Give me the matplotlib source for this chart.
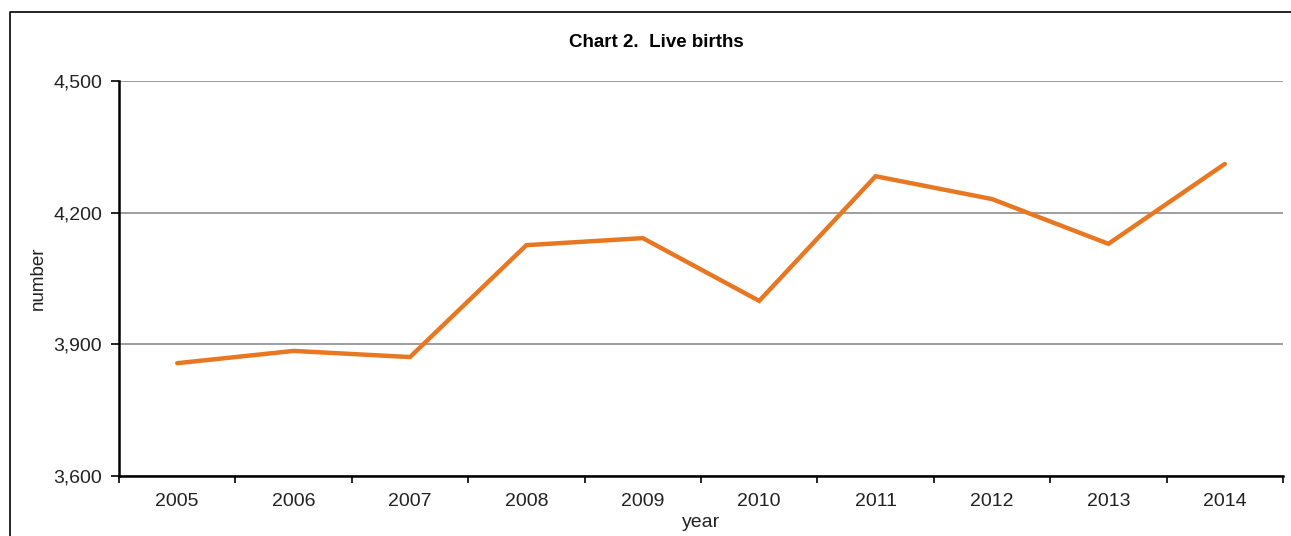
import matplotlib
matplotlib.use('Agg')
import matplotlib.pyplot as plt
from matplotlib.lines import Line2D
from matplotlib.ticker import FuncFormatter, FixedLocator

plt.rcParams['font.family'] = ['Liberation Sans', 'DejaVu Sans']

# data
years = ['2005', '2006', '2007', '2008', '2009', '2010', '2011', '2012', '2013', '2014']
births = [3857, 3885, 3871, 4126, 4142, 3999, 4283, 4231, 4129, 4311]
y_ticks = [3600, 3900, 4200, 4500]

W, H = 1291, 536
fig = plt.figure(figsize=(W / 100, H / 100), dpi=100)
ax = fig.add_axes([119 / W, 1 - 476 / H, (1283 - 119) / W, (476 - 81) / H])

# outer frame of the chart (left + top only, rest is cut off)
fig.add_artist(Line2D([10 / W, 10 / W, 1.0], [0.0, 1 - 12 / H, 1 - 12 / H],
                      transform=fig.transFigure, color='black', linewidth=1.2))

x = list(range(len(years)))
ax.plot(x, births, color='#E87722', linewidth=3.2, solid_capstyle='round',
        solid_joinstyle='miter', zorder=3)

ax.set_xlim(-0.5, len(years) - 0.5)
ax.set_ylim(3600, 4500)
ax.set_yticks(y_ticks)
ax.yaxis.set_major_formatter(FuncFormatter(lambda v, p: f'{int(v):,}'))
ax.grid(axis='y', color='#8c8c8c', linewidth=1.2)
ax.set_axisbelow(True)

# category boundaries as ticks, labels in the middle
ax.xaxis.set_major_locator(FixedLocator([i - 0.5 for i in range(len(years) + 1)]))
ax.xaxis.set_major_formatter(FuncFormatter(lambda v, p: ''))
ax.xaxis.set_minor_locator(FixedLocator(x))
ax.set_xticklabels(years, minor=True)
ax.tick_params(axis='x', which='major', length=5, width=1.2, direction='out')
ax.tick_params(axis='x', which='minor', length=0, pad=12, labelsize=14, labelcolor='#222222')
ax.tick_params(axis='y', length=6, width=1.2, direction='out', pad=6,
               labelsize=14, labelcolor='#222222')

for s in ['top', 'right']:
    ax.spines[s].set_visible(False)
ax.spines['left'].set_linewidth(1.8)
ax.spines['bottom'].set_linewidth(1.8)

ax.set_xlabel('year', fontsize=14, labelpad=3, color='#222222')
ax.set_ylabel('number', fontsize=13.5, labelpad=5, color='#222222')
fig.text(656 / W, 1 - 42 / H, 'Chart 2.  Live births', ha='center', va='center',
         fontsize=13.5, fontweight='bold')

fig.savefig('out.png', dpi=100, facecolor='white')
